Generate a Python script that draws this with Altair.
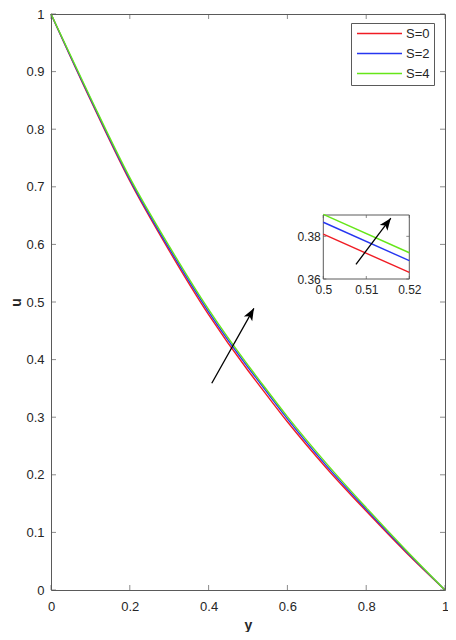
import math
import altair as alt
import pandas as pd

# ---------------- data ----------------
y_vals = [0.0, 0.1, 0.2, 0.3, 0.4, 0.5, 0.52, 0.6, 0.7, 0.8, 0.9, 1.0]
u_s0 = [1.0, 0.851, 0.710, 0.589, 0.478, 0.381, 0.3631, 0.292, 0.211, 0.137, 0.066, 0.0]
u_s2 = [1.0, 0.853, 0.713, 0.593, 0.483, 0.3866, 0.3686, 0.297, 0.215, 0.140, 0.068, 0.0]
u_s4 = [1.0, 0.855, 0.716, 0.597, 0.487, 0.3903, 0.3723, 0.301, 0.219, 0.143, 0.070, 0.0]
series = ["S=0", "S=2", "S=4"]
colors = ["#f01c24", "#2636f0", "#66e619"]

x_ticks_main = [0, 0.2, 0.4, 0.6, 0.8, 1.0]
y_ticks_main = [0, 0.1, 0.2, 0.3, 0.4, 0.5, 0.6, 0.7, 0.8, 0.9, 1.0]
inset_x_domain = [0.5, 0.52]
inset_y_domain = [0.36, 0.39]
inset_x_ticks = [0.5, 0.51, 0.52]
inset_y_ticks = [0.36, 0.38]

arrow_main = {"x": [0.408], "y": [0.359], "x2": [0.515], "y2": [0.489]}
arrow_inset = {"x": [0.5076], "y": [0.3669], "x2": [0.5157], "y2": [0.3885]}

# ---------------- layout ----------------
W, H = 394, 576
inset_px_x = [272.3, 358.3]
inset_px_y = [265, 201]
axis_col = "#5a5a5a"
text_col = "#262626"
FONT = "Liberation Sans"

rows = []
for s, us in zip(series, [u_s0, u_s2, u_s4]):
    for yv, uv in zip(y_vals, us):
        rows.append({"y": yv, "u": uv, "S": s})
df = pd.DataFrame(rows)

color = alt.Color(
    "S:N",
    scale=alt.Scale(domain=series, range=colors),
    legend=alt.Legend(
        title=None, orient="none", legendX=300, legendY=9,
        symbolType="M-4,0L4,0", symbolSize=126.6, symbolStrokeWidth=1.5,
        labelFontSize=13, labelColor=text_col, labelFont=FONT,
        padding=4, rowPadding=6, strokeColor=axis_col, fillColor="white",
        symbolOffset=18, labelOffset=20,
    ),
)

xs = alt.Scale(domain=[0, 1], nice=False, zero=False)
ys = alt.Scale(domain=[0, 1], nice=False, zero=False)

x_axis = alt.Axis(
    values=x_ticks_main, format="~g", labelFlush=False, labelOverlap=False, domain=False,
    ticks=False, grid=False, labelPadding=10, labelFontSize=13,
    titleFontSize=14, titleFontWeight="bold", titlePadding=5,
)
y_axis = alt.Axis(
    values=y_ticks_main, format="~g", labelFlush=False, labelOverlap=False, domain=False,
    ticks=False, grid=False, labelPadding=7, labelFontSize=13,
    titleFontSize=14, titleFontWeight="bold", titlePadding=2,
)

lines = alt.Chart(df).mark_line(strokeWidth=1.4, interpolate="monotone").encode(
    x=alt.X("y:Q", scale=xs, axis=x_axis, title="y"),
    y=alt.Y("u:Q", scale=ys, axis=y_axis, title="u"),
    color=color,
)

txdf = pd.DataFrame({"t": x_ticks_main})
tydf = pd.DataFrame({"t": y_ticks_main})
tick_kw = dict(thickness=1, color=axis_col, size=5)
tb = alt.Chart(txdf).mark_tick(orient="vertical", yOffset=-2.5, **tick_kw).encode(
    x=alt.X("t:Q", scale=xs, title="y"), y=alt.YDatum(0, title="u"))
tt = alt.Chart(txdf).mark_tick(orient="vertical", yOffset=2.5, **tick_kw).encode(
    x=alt.X("t:Q", scale=xs, title="y"), y=alt.YDatum(1, title="u"))
tl = alt.Chart(tydf).mark_tick(orient="horizontal", xOffset=2.5, **tick_kw).encode(
    y=alt.Y("t:Q", scale=ys, title="u"), x=alt.XDatum(0, title="y"))
tr = alt.Chart(tydf).mark_tick(orient="horizontal", xOffset=-2.5, **tick_kw).encode(
    y=alt.Y("t:Q", scale=ys, title="u"), x=alt.XDatum(1, title="y"))

am = pd.DataFrame(arrow_main)
ang_main = math.degrees(math.atan2((am.x2[0] - am.x[0]) * W, (am.y2[0] - am.y[0]) * H))
head_path = "M0,0L-0.8,2L0,1.5L0.8,2Z"
arr_line = alt.Chart(am).mark_rule(color="black", strokeWidth=1.3).encode(
    x=alt.X("x:Q", scale=xs, title="y"), y=alt.Y("y:Q", scale=ys, title="u"),
    x2="x2", y2="y2")
arr_head = alt.Chart(am).mark_point(
    shape=head_path, filled=True, color="black", size=144, angle=ang_main, opacity=1
).encode(x=alt.X("x2:Q", scale=xs, title="y"), y=alt.Y("y2:Q", scale=ys, title="u"))

main = alt.layer(lines, tb, tt, tl, tr, arr_line, arr_head)

# ---------------- inset ----------------
isx = alt.Scale(domain=inset_x_domain, range=inset_px_x, nice=False, zero=False)
isy = alt.Scale(domain=inset_y_domain, range=inset_px_y, nice=False, zero=False)
ix_axis = alt.Axis(
    orient="bottom", offset=inset_px_y[0] - H, values=inset_x_ticks, format="~g",
    labelFlush=False, labelOverlap=False, domain=False, ticks=False, grid=False,
    labelPadding=5, labelFontSize=12, title=None,
)
iy_axis = alt.Axis(
    orient="left", offset=-inset_px_x[0], values=inset_y_ticks, format="~g",
    labelFlush=False, labelOverlap=False, domain=False, ticks=False, grid=False,
    labelPadding=3, labelFontSize=12, title=None,
)
box = pd.DataFrame({"x0": [inset_x_domain[0]], "x1": [inset_x_domain[1]],
                    "y0": [inset_y_domain[0]], "y1": [inset_y_domain[1]]})
ibox = alt.Chart(box).mark_rect(fill="white", stroke=axis_col, strokeWidth=1).encode(
    x=alt.X("x0:Q", scale=isx, axis=ix_axis), x2="x1",
    y=alt.Y("y0:Q", scale=isy, axis=iy_axis), y2="y1")
ilines = alt.Chart(df).transform_filter(
    (alt.datum.y >= inset_x_domain[0]) & (alt.datum.y <= inset_x_domain[1])
).mark_line(strokeWidth=1.4).encode(
    x=alt.X("y:Q", scale=isx, title=None), y=alt.Y("u:Q", scale=isy, title=None), color=color)

itx = pd.DataFrame({"t": inset_x_ticks})
ity = pd.DataFrame({"t": inset_y_ticks})
itk = dict(thickness=1, color=axis_col, size=3)
itb = alt.Chart(itx).mark_tick(orient="vertical", yOffset=-1.5, **itk).encode(
    x=alt.X("t:Q", scale=isx, title=None), y=alt.YDatum(inset_y_domain[0], title=None))
itt = alt.Chart(itx).mark_tick(orient="vertical", yOffset=1.5, **itk).encode(
    x=alt.X("t:Q", scale=isx, title=None), y=alt.YDatum(inset_y_domain[1], title=None))
itl = alt.Chart(ity).mark_tick(orient="horizontal", xOffset=1.5, **itk).encode(
    y=alt.Y("t:Q", scale=isy, title=None), x=alt.XDatum(inset_x_domain[0], title=None))
itr = alt.Chart(ity).mark_tick(orient="horizontal", xOffset=-1.5, **itk).encode(
    y=alt.Y("t:Q", scale=isy, title=None), x=alt.XDatum(inset_x_domain[1], title=None))

ai = pd.DataFrame(arrow_inset)
sx = (inset_px_x[1] - inset_px_x[0]) / (inset_x_domain[1] - inset_x_domain[0])
sy = (inset_px_y[0] - inset_px_y[1]) / (inset_y_domain[1] - inset_y_domain[0])
ang_in = math.degrees(math.atan2((ai.x2[0] - ai.x[0]) * sx, (ai.y2[0] - ai.y[0]) * sy))
iarr_line = alt.Chart(ai).mark_rule(color="black", strokeWidth=1.3).encode(
    x=alt.X("x:Q", scale=isx, title=None), y=alt.Y("y:Q", scale=isy, title=None),
    x2="x2", y2="y2")
iarr_head = alt.Chart(ai).mark_point(
    shape=head_path, filled=True, color="black", size=144, angle=ang_in, opacity=1
).encode(x=alt.X("x2:Q", scale=isx, title=None), y=alt.Y("y2:Q", scale=isy, title=None))

inset = alt.layer(ibox, ilines, itb, itt, itl, itr, iarr_line, iarr_head)

chart = alt.layer(main, inset).resolve_scale(x="independent", y="independent").properties(
    width=W, height=H,
    padding={"left": 43, "top": 6, "right": 3, "bottom": 42},
    autosize=alt.AutoSizeParams(type="none"),
).configure(font=FONT).configure_view(stroke=axis_col, strokeWidth=1).configure_axis(
    labelColor=text_col, titleColor=text_col, labelFont=FONT, titleFont=FONT)

chart.save("out.html", embed_options={"renderer": "svg", "actions": False})
